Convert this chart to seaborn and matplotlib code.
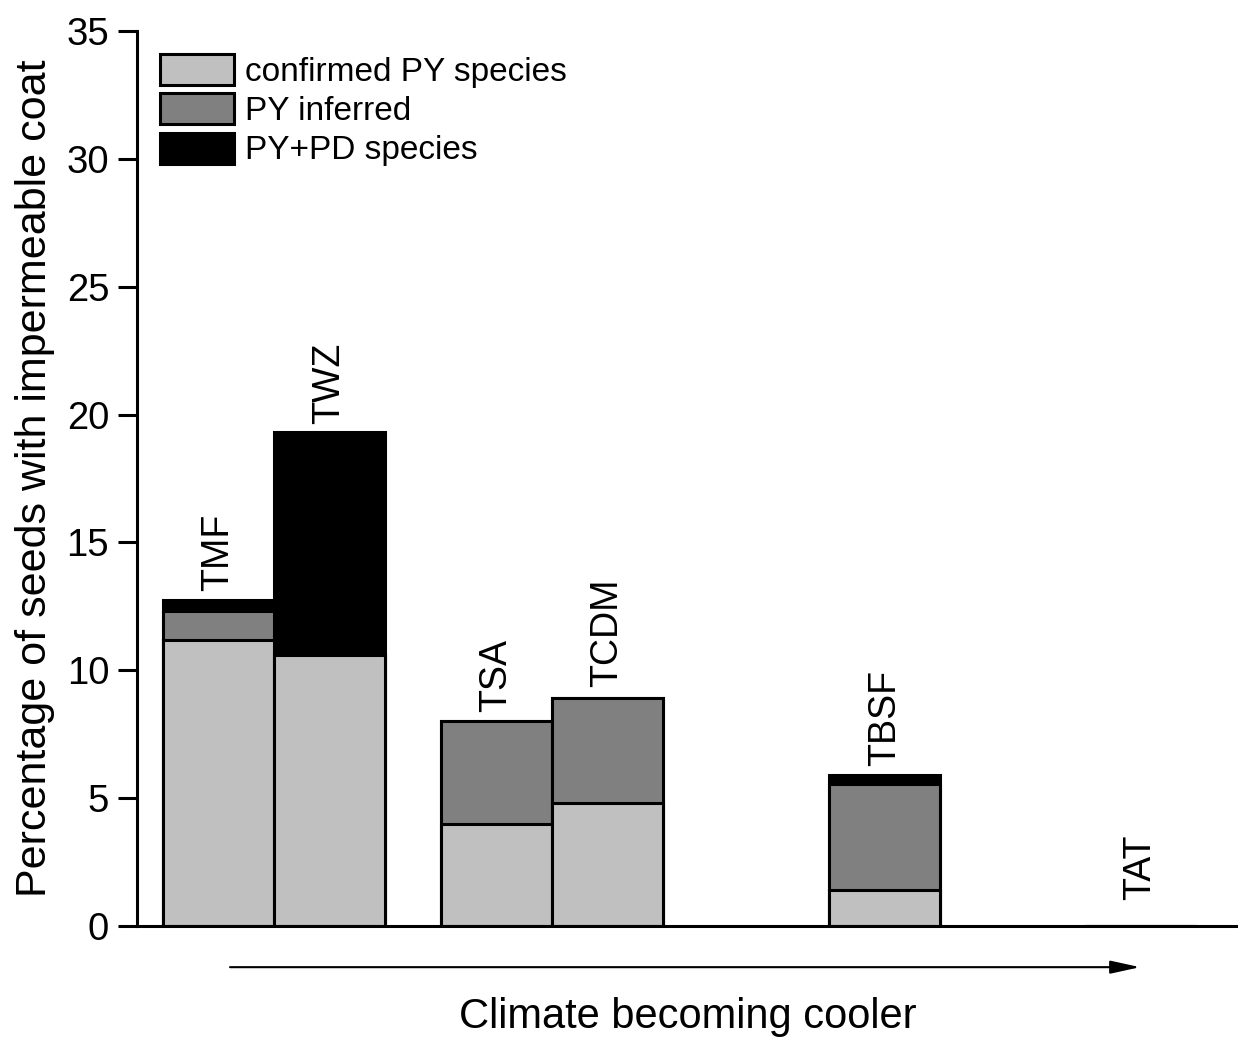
import matplotlib
matplotlib.use("Agg")
import matplotlib.pyplot as plt
from matplotlib.patches import Patch
import seaborn as sns
import pandas as pd

# ---- data ----
categories = ["TMF", "TWZ", "TSA", "TCDM", "TBSF", "TAT"]
confirmed_py = [11.2, 10.6, 4.0, 4.8, 1.4, 0.0]
py_inferred = [1.1, 0.0, 4.0, 4.1, 4.15, 0.0]
py_pd = [0.45, 8.7, 0.0, 0.0, 0.35, 0.0]
series_labels = ["confirmed PY species", "PY inferred", "PY+PD species"]
y_ticks = [0, 5, 10, 15, 20, 25, 30, 35]

# ---- layout ----
positions = [0.0, 1.0, 2.5, 3.5, 6.0, 8.3]
label_offsets = [0.35, 0.35, 0.35, 0.45, 0.35, 1.0]
colors = ["#c0c0c0", "#808080", "#000000"]

sns.set_theme(style="ticks")
plt.rcParams["font.family"] = ["Liberation Sans", "DejaVu Sans"]
plt.rcParams.update({"text.color": "black", "axes.labelcolor": "black",
                     "xtick.color": "black", "ytick.color": "black"})

df = pd.DataFrame({"cat": categories, "pos": positions,
                   "c": confirmed_py, "i": py_inferred, "d": py_pd})
df["lvl1"] = df["c"]
df["lvl2"] = df["c"] + df["i"]
df["lvl3"] = df["c"] + df["i"] + df["d"]

fig = plt.figure(figsize=(12.38, 10.37), dpi=100)
ax = fig.add_axes([137 / 1238, 1 - 926 / 1037, 1 - 137 / 1238, (926 - 31) / 1037])

for col, color in zip(["lvl3", "lvl2", "lvl1"], colors[::-1]):
    sns.barplot(data=df, x="pos", y=col, native_scale=True, width=1.0,
                color=color, saturation=1, errorbar=None,
                edgecolor="black", linewidth=2.2, ax=ax)

for cat, p, top, off in zip(df["cat"], df["pos"], df["lvl3"], label_offsets):
    ax.text(p, top + off, cat, rotation=90, ha="center", va="bottom",
            fontsize=27, color="black")

ax.set_xlim(-0.734, 9.18)
ax.set_ylim(0, 35)
ax.set_yticks(y_ticks)
ax.set_yticklabels([str(t) for t in y_ticks], fontsize=27.5)
ax.set_xticks([])
ax.tick_params(axis="y", direction="out", length=14, width=2.2, pad=6, colors="black")
for s in ["top", "right"]:
    ax.spines[s].set_visible(False)
for s in ["left", "bottom"]:
    ax.spines[s].set_linewidth(2.2)
    ax.spines[s].set_color("black")

ax.set_ylabel("Percentage of seeds with impermeable coat", fontsize=31, labelpad=8)
ax.set_xlabel("Climate becoming cooler", fontsize=30, labelpad=51)

ax.annotate("", xy=(0.911, -0.046), xytext=(0.0845, -0.046),
            xycoords="axes fraction", textcoords="axes fraction",
            arrowprops=dict(arrowstyle="-|>,head_length=1.0,head_width=0.22",
                            mutation_scale=18, color="black", lw=1.5,
                            shrinkA=0, shrinkB=0),
            annotation_clip=False)

handles = [Patch(facecolor=c, edgecolor="black", linewidth=2.2) for c in colors]
ax.legend(handles, series_labels, loc="upper left", bbox_to_anchor=(0.0, 1.0),
          frameon=False, fontsize=24, handlelength=2.2, handleheight=1.05,
          labelspacing=0.16, handletextpad=0.35, borderaxespad=0.5,
          borderpad=0.2)

fig.savefig("out.png", dpi=100)
